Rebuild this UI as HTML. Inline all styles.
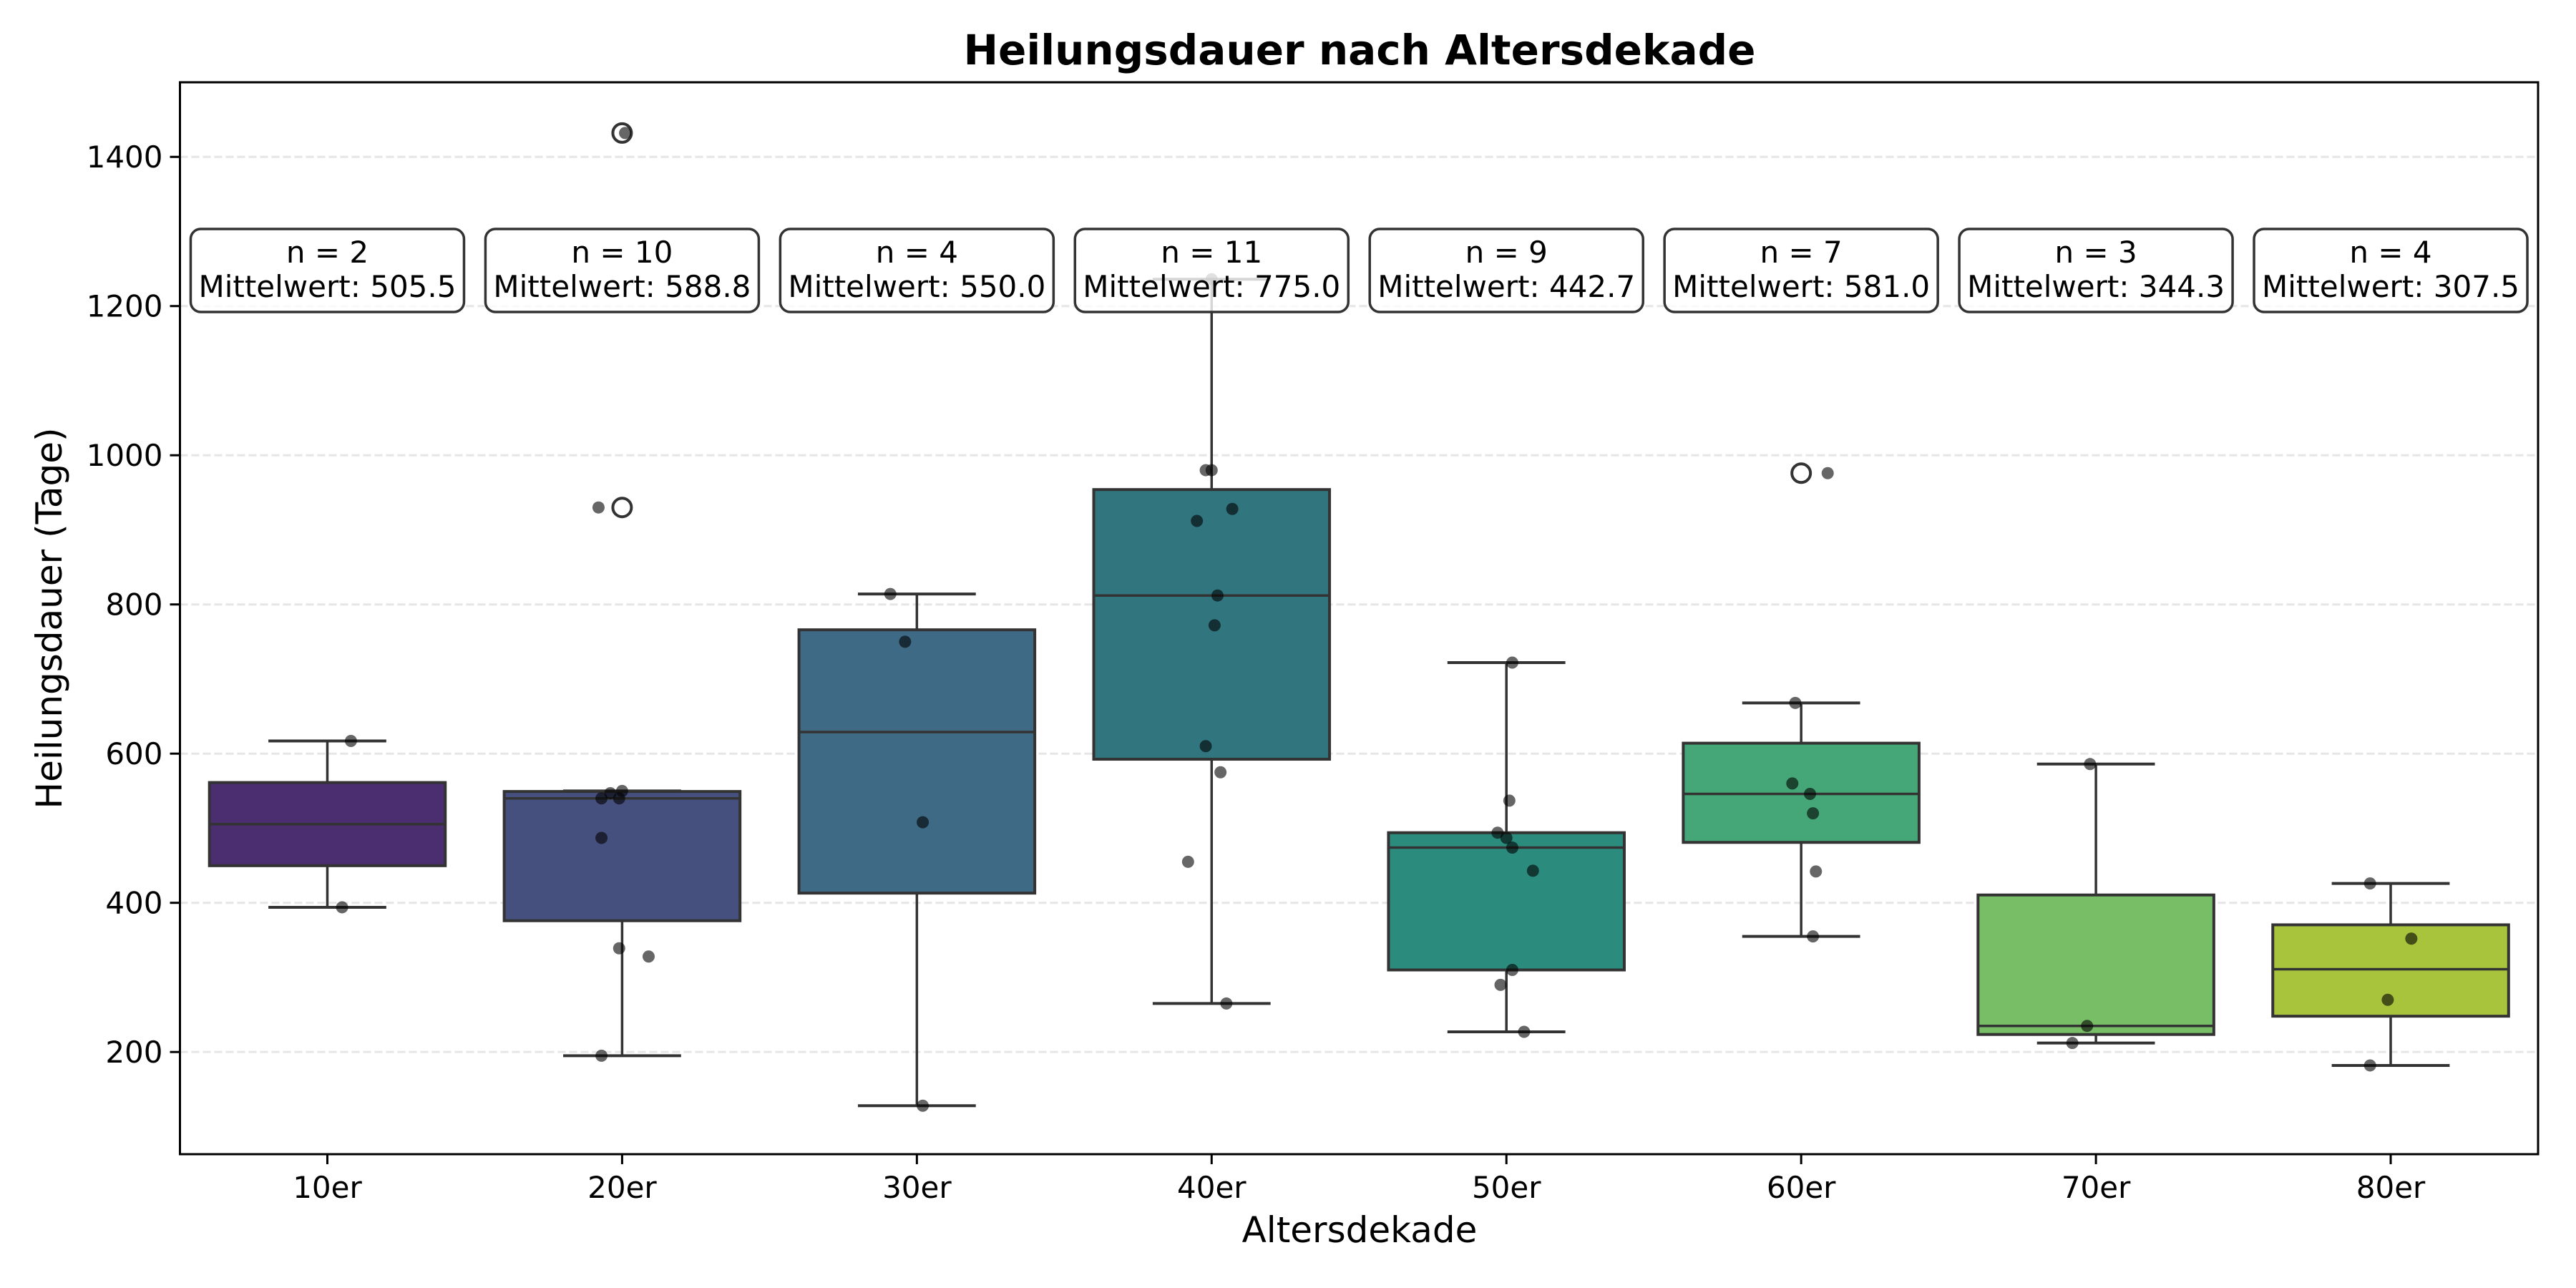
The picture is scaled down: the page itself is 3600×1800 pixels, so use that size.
<!DOCTYPE html>
<html><head><meta charset="utf-8">
<style>
html,body{margin:0;padding:0;background:#fff;}
svg{display:block;font-family:"DejaVu Sans","Liberation Sans",sans-serif;}
</style></head>
<body>
<svg id="chart" width="3600" height="1800" viewBox="0 0 3600 1800" xmlns="http://www.w3.org/2000/svg">
<rect width="3600" height="1800" fill="#fff"/>
<g id="grid"></g>
<g id="boxes"></g>
<g id="points"></g>
<g id="annots"></g>
<g id="axes"></g>
<text x="1900" y="90" font-size="58" font-weight="bold" text-anchor="middle">Heilungsdauer nach Altersdekade</text>
<text x="1900" y="1736" font-size="50" text-anchor="middle">Altersdekade</text>
<text transform="translate(86,864) rotate(-90)" font-size="50" text-anchor="middle">Heilungsdauer (Tage)</text>
</svg>
<script>
const categories = ["10er","20er","30er","40er","50er","60er","70er","80er"];
const colors = ["#4b2e70","#46507e","#3e6a85","#31767f","#2b8c7e","#45a778","#78be66","#a8c43d"];
const values10 = [617,394];
const values20 = [1432,930,550,547,540,540,487,339,328,195];
const values30 = [814,750,508,128];
const values40 = [1236,980,980,928,912,812,772,610,575,455,265];
const values50 = [722,537,494,487,474,443,310,290,227];
const values60 = [976,668,560,546,520,442,355];
const values70 = [586,235,212];
const values80 = [426,352,270,182];
const jitter10 = [0.08,0.05];
const jitter20 = [0.01,-0.08,0,-0.04,-0.07,-0.01,-0.07,-0.01,0.09,-0.07];
const jitter30 = [-0.09,-0.04,0.02,0.02];
const jitter40 = [0,-0.02,0,0.07,-0.05,0.02,0.01,-0.02,0.03,-0.08,0.05];
const jitter50 = [0.02,0.01,-0.03,0,0.02,0.09,0.02,-0.02,0.06];
const jitter60 = [0.09,-0.02,-0.03,0.03,0.04,0.05,0.04];
const jitter70 = [-0.02,-0.03,-0.08];
const jitter80 = [-0.07,0.07,-0.01,-0.07];
const yTicks = [200,400,600,800,1000,1200,1400];

const groups=[values10,values20,values30,values40,values50,values60,values70,values80];
const jitters=[jitter10,jitter20,jitter30,jitter40,jitter50,jitter60,jitter70,jitter80];
const NS="http://www.w3.org/2000/svg";
const L=251.5,R=3547,T=115,B=1613,yMin=63,yMax=1500;
const step=(R-L)/categories.length;
const xs=i=>L+(i+0.5)*step;
const ys=v=>B-(v-yMin)/(yMax-yMin)*(B-T);
function mk(tag,attrs,parent){const e=document.createElementNS(NS,tag);for(const k in attrs)e.setAttribute(k,attrs[k]);parent.appendChild(e);return e;}
function q(s,p){const idx=(s.length-1)*p,lo=Math.floor(idx),hi=Math.ceil(idx);return s[lo]+(s[hi]-s[lo])*(idx-lo);}
const grid=document.getElementById('grid'),boxes=document.getElementById('boxes'),pts=document.getElementById('points'),ann=document.getElementById('annots'),axes=document.getElementById('axes');
yTicks.forEach(t=>{
 const g=mk('line',{x1:L,x2:R,y1:ys(t),y2:ys(t),stroke:'#e6e6e6','stroke-width':3,'stroke-dasharray':'11,5'},grid);
 
 
 const tk=mk('line',{x1:L-14,x2:L,y1:ys(t),y2:ys(t),stroke:'#000','stroke-width':3},axes);
 
 
 const tl=mk('text',{x:L-24,y:ys(t)+15,'font-size':42,'text-anchor':'end'},axes);
 tl.textContent=t;
 
 
});
groups.forEach((vals,i)=>{
 const s=[...vals].sort((a,b)=>a-b);
 const q1=q(s,0.25),q3=q(s,0.75),med=q(s,0.5),iqr=q3-q1;
 const lo=s.find(v=>v>=q1-1.5*iqr),hi=[...s].reverse().find(v=>v<=q3+1.5*iqr);
 const cx=xs(i),bw=step*0.8,cw=bw/2;
 const g=mk('g',{},boxes);
 
 
 mk('line',{x1:cx,x2:cx,y1:ys(q3),y2:ys(hi),stroke:'#333','stroke-width':3.5},g);
 mk('line',{x1:cx,x2:cx,y1:ys(q1),y2:ys(lo),stroke:'#333','stroke-width':3.5},g);
 mk('line',{x1:cx-cw/2,x2:cx+cw/2,y1:ys(hi),y2:ys(hi),stroke:'#333','stroke-width':4},g);
 mk('line',{x1:cx-cw/2,x2:cx+cw/2,y1:ys(lo),y2:ys(lo),stroke:'#333','stroke-width':4},g);
 mk('rect',{x:cx-bw/2,y:ys(q3),width:bw,height:ys(q1)-ys(q3),fill:colors[i],stroke:'#333','stroke-width':4},g);
 mk('line',{x1:cx-bw/2,x2:cx+bw/2,y1:ys(med),y2:ys(med),stroke:'#333','stroke-width':3.5},g);
 s.filter(v=>v<lo||v>hi).forEach(v=>{
  const o=mk('circle',{cx:cx,cy:ys(v),r:13,fill:'none',stroke:'#333','stroke-width':4},g);
  
  
 });
 vals.forEach((v,j)=>{
  const p=mk('circle',{cx:cx+jitters[i][j]*step,cy:ys(v),r:8.5,fill:'#000','fill-opacity':0.6},pts);
  
  
 });
 const mean=vals.reduce((a,b)=>a+b,0)/vals.length;
 const ag=mk('g',{},ann);
 
 
 mk('rect',{x:cx-191,y:320,width:382,height:116,rx:14,fill:'#fff','fill-opacity':0.8,stroke:'#333','stroke-width':3.5},ag);
 const t1=mk('text',{x:cx,y:367,'font-size':42,'text-anchor':'middle'},ag);t1.textContent='n = '+vals.length;
 const t2=mk('text',{x:cx,y:415,'font-size':42,'text-anchor':'middle'},ag);t2.textContent='Mittelwert: '+mean.toFixed(1);
 const xt=mk('line',{x1:cx,x2:cx,y1:B,y2:B+14,stroke:'#000','stroke-width':3},axes);
 
 
 const xl=mk('text',{x:cx,y:1674,'font-size':42,'text-anchor':'middle'},axes);
 xl.textContent=categories[i];
 
 
});
const frame=mk('rect',{x:L,y:T,width:R-L,height:B-T,fill:'none',stroke:'#000','stroke-width':3},axes);


</script>
</body></html>
